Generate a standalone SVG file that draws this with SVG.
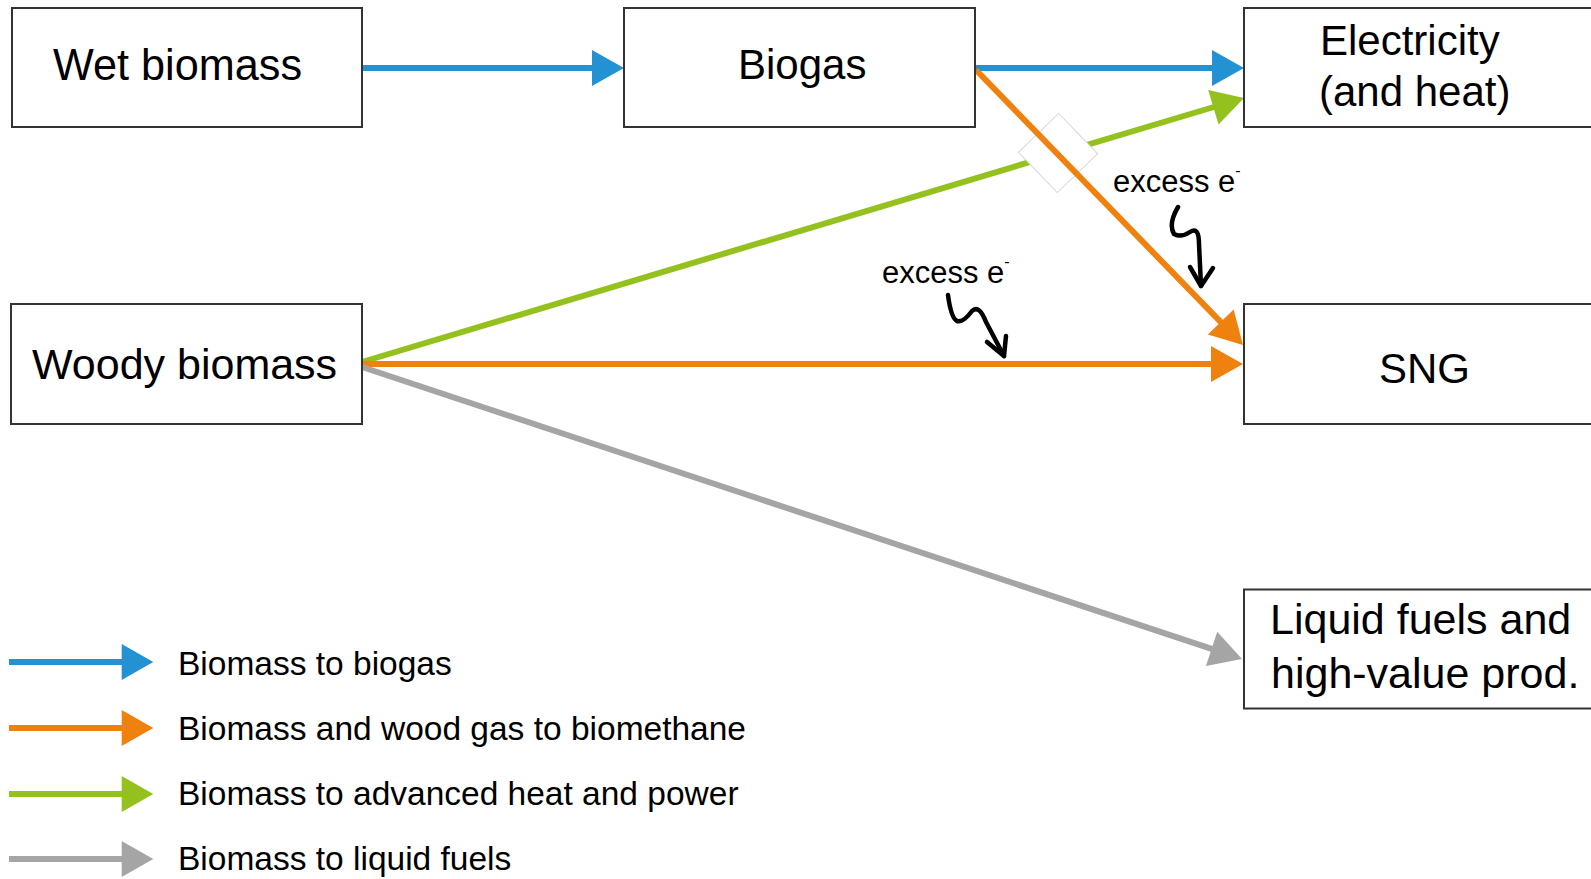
<svg xmlns="http://www.w3.org/2000/svg" width="1591" height="879" viewBox="0 0 1591 879">
<style>
.box{fill:#fff;stroke:#333;stroke-width:2}
.t{font-family:"Liberation Sans",Arial,sans-serif;fill:#000}
.ln{fill:none;stroke-width:6}
.blue{stroke:#2292d2}.orange{stroke:#ef810e}.green{stroke:#95c11f}.gray{stroke:#a5a5a5}
.sq{fill:none;stroke:#000;stroke-width:4.5;stroke-linecap:round;stroke-linejoin:round}
</style>
<defs>
<marker id="hb" markerUnits="userSpaceOnUse" markerWidth="32" markerHeight="36" refX="4" refY="18" orient="auto" overflow="visible"><path d="M0,0 L32,18 L0,36 z" fill="#2292d2"/></marker>
<marker id="ho" markerUnits="userSpaceOnUse" markerWidth="32" markerHeight="36" refX="4" refY="18" orient="auto" overflow="visible"><path d="M0,0 L32,18 L0,36 z" fill="#ef810e"/></marker>
<marker id="hg" markerUnits="userSpaceOnUse" markerWidth="32" markerHeight="36" refX="4" refY="18" orient="auto" overflow="visible"><path d="M0,0 L32,18 L0,36 z" fill="#95c11f"/></marker>
<marker id="hy" markerUnits="userSpaceOnUse" markerWidth="32" markerHeight="36" refX="4" refY="18" orient="auto" overflow="visible"><path d="M0,0 L32,18 L0,36 z" fill="#a5a5a5"/></marker>
</defs>
<rect width="1591" height="879" fill="#fff"/>
<g id="connectors">
<line class="ln blue" x1="362" y1="68" x2="596" y2="68" marker-end="url(#hb)"/>
<line class="ln blue" x1="975" y1="68" x2="1216" y2="68" marker-end="url(#hb)"/>
<line class="ln green" x1="362" y1="362" x2="1217.2" y2="106" marker-end="url(#hg)"/>
<rect x="-28" y="-28" width="56" height="56" fill="#fff" stroke="#d6d6d6" stroke-width="1" transform="translate(1058,153) rotate(46)"/>
<line class="ln orange" x1="976" y1="70" x2="1223.5" y2="324.9" marker-end="url(#ho)"/>
<line class="ln orange" x1="362" y1="364" x2="1215" y2="364" marker-end="url(#ho)"/>
<line class="ln gray" x1="362" y1="367" x2="1215.4" y2="650.2" stroke-width="7" marker-end="url(#hy)"/>
</g>
<g id="wet-biomass"><rect class="box" x="12" y="8" width="350" height="119"/><text class="t" x="53" y="80" font-size="44" textLength="249" lengthAdjust="spacingAndGlyphs">Wet biomass</text></g>
<g id="biogas"><rect class="box" x="624" y="8" width="351" height="119"/><text class="t" x="738" y="79" font-size="42">Biogas</text></g>
<g id="electricity"><rect class="box" x="1244" y="8" width="370" height="119"/><text class="t" x="1320" y="55" font-size="42">Electricity</text><text class="t" x="1319" y="106" font-size="42">(and heat)</text></g>
<g id="woody-biomass"><rect class="box" x="11" y="304" width="351" height="120"/><text class="t" x="32" y="379" font-size="43">Woody biomass</text></g>
<g id="sng"><rect class="box" x="1244" y="304" width="370" height="120"/><text class="t" x="1379" y="383" font-size="42">SNG</text></g>
<g id="liquid-fuels"><rect class="box" x="1244" y="589.5" width="370" height="119"/><text class="t" x="1270" y="634" font-size="43">Liquid fuels and</text><text class="t" x="1271" y="688" font-size="43">high-value prod.</text></g>
<g id="excess-1"><text class="t" x="882" y="283" font-size="31">excess e<tspan font-size="16" dy="-16">-</tspan></text><path class="sq" d="M948,295 Q951,318 957,321 Q963,323 972,311 Q979,304 986,322 L1004,356"/><path class="sq" d="M987,342 L1004,356 L1006,336"/></g>
<g id="excess-2"><text class="t" x="1113" y="192" font-size="31">excess e<tspan font-size="16" dy="-16">-</tspan></text><path class="sq" d="M1178,207 Q1168,224 1174,234 Q1181,238 1190,232 Q1199,226 1199,244 L1201,286"/><path class="sq" d="M1190,267 L1201,286 L1213,268"/></g>
<g id="legend">
<line class="ln blue" x1="9" y1="662" x2="126" y2="662" stroke-width="7"/><path d="M121.7,644 L153.3,662 L121.7,680 z" fill="#2292d2"/>
<line class="ln orange" x1="9" y1="728" x2="126" y2="728" stroke-width="7"/><path d="M121.7,710 L153.3,728 L121.7,746 z" fill="#ef810e"/>
<line class="ln green" x1="9" y1="794" x2="126" y2="794" stroke-width="7"/><path d="M121.7,776 L153.3,794 L121.7,812 z" fill="#95c11f"/>
<line class="ln gray" x1="9" y1="859" x2="126" y2="859" stroke-width="7"/><path d="M121.7,841 L153.3,859 L121.7,877 z" fill="#a5a5a5"/>
<text class="t" x="178" y="675" font-size="33.5">Biomass to biogas</text>
<text class="t" x="178" y="740" font-size="33.5">Biomass and wood gas to biomethane</text>
<text class="t" x="178" y="805" font-size="33.5">Biomass to advanced heat and power</text>
<text class="t" x="178" y="870" font-size="33.5">Biomass to liquid fuels</text>
</g>
</svg>
